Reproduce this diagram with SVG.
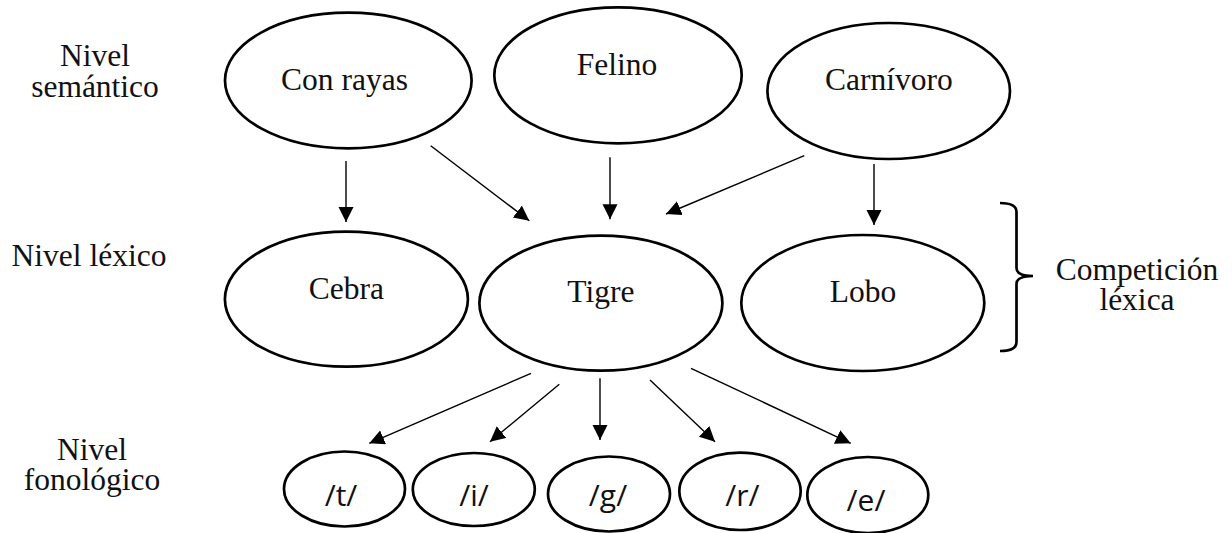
<svg xmlns="http://www.w3.org/2000/svg" width="1232" height="533" viewBox="0 0 1232 533">
  <style>
    .node { fill: #ffffff; stroke: #000000; stroke-width: 2.7; }
    .serif { font-family: "Liberation Serif", "Times New Roman", serif; font-size: 31.5px; fill: #111111; text-anchor: middle; }
    .sans { font-family: "Open Sans", "Liberation Sans", sans-serif; font-size: 30px; fill: #111111; text-anchor: middle; }
    .edge { stroke: #000000; stroke-width: 1.4; fill: none; marker-end: url(#arrow); }
    .brace { stroke: #000000; stroke-width: 2.7; fill: none; }
  </style>
  <defs>
    <marker id="arrow" markerUnits="userSpaceOnUse" markerWidth="16" markerHeight="16" refX="15" refY="7.5" orient="auto">
      <path d="M0,0 L15,7.5 L0,15 Z" fill="#000000"/>
    </marker>
  </defs>

  <rect width="1232" height="533" fill="#ffffff"/>

  <!-- level labels -->
  <g id="labels">
    <text class="serif" x="95" y="66">Nivel</text>
    <text class="serif" x="95" y="97">semántico</text>
    <text class="serif" x="89" y="266">Nivel léxico</text>
    <text class="serif" x="92" y="460">Nivel</text>
    <text class="serif" x="92" y="490">fonológico</text>
  </g>

  <!-- connectors -->
  <g id="connectors">
    <line class="edge" x1="346" y1="161" x2="346" y2="222"/>
    <line class="edge" x1="430.7" y1="145.7" x2="529.3" y2="220.7"/>
    <line class="edge" x1="610" y1="157.3" x2="610" y2="219.3"/>
    <line class="edge" x1="804.3" y1="155.7" x2="666" y2="214"/>
    <line class="edge" x1="874" y1="164" x2="874" y2="225"/>
    <line class="edge" x1="531" y1="373.3" x2="369.3" y2="443.3"/>
    <line class="edge" x1="559.3" y1="384.3" x2="490" y2="441.7"/>
    <line class="edge" x1="600" y1="378.3" x2="600" y2="440"/>
    <line class="edge" x1="650" y1="380" x2="715" y2="441.7"/>
    <line class="edge" x1="691" y1="368.3" x2="850.7" y2="443.3"/>
  </g>

  <!-- semantic level -->
  <g id="con-rayas">
    <ellipse class="node" cx="348.3" cy="80.5" rx="123.3" ry="67.8"/>
    <text class="serif" x="344.5" y="90">Con rayas</text>
  </g>
  <g id="felino">
    <ellipse class="node" cx="618" cy="75.3" rx="123.7" ry="68"/>
    <text class="serif" x="617" y="75">Felino</text>
  </g>
  <g id="carnivoro">
    <ellipse class="node" cx="888.7" cy="91" rx="121.3" ry="68"/>
    <text class="serif" x="888.8" y="89.5">Carnívoro</text>
  </g>

  <!-- lexical level -->
  <g id="cebra">
    <ellipse class="node" cx="346.4" cy="299.2" rx="121.5" ry="67.5"/>
    <text class="serif" x="346.4" y="298.5">Cebra</text>
  </g>
  <g id="tigre">
    <ellipse class="node" cx="600.9" cy="303.2" rx="121.5" ry="67.5"/>
    <text class="serif" x="600.9" y="301.5">Tigre</text>
  </g>
  <g id="lobo">
    <ellipse class="node" cx="862.8" cy="303" rx="121.5" ry="68"/>
    <text class="serif" x="863" y="301.5">Lobo</text>
  </g>

  <!-- lexical competition brace -->
  <g id="competicion">
    <path class="brace" d="M1000,203 Q1016.5,203 1016.5,212 L1016.5,268 Q1016.5,276 1033,276 Q1016.5,276 1016.5,284 L1016.5,342 Q1016.5,351 1000,351"/>
    <text class="serif" x="1137" y="280">Competición</text>
    <text class="serif" x="1137" y="310">léxica</text>
  </g>

  <!-- phonological level -->
  <g id="ph-t">
    <ellipse class="node" cx="344.5" cy="489" rx="60.5" ry="37.5"/>
    <text class="sans" x="341" y="506">/t/</text>
  </g>
  <g id="ph-i">
    <ellipse class="node" cx="473.8" cy="489.5" rx="61" ry="36.5"/>
    <text class="sans" x="474" y="506">/i/</text>
  </g>
  <g id="ph-g">
    <ellipse class="node" cx="609" cy="494" rx="61" ry="37.5"/>
    <text class="sans" x="608" y="506">/g/</text>
  </g>
  <g id="ph-r">
    <ellipse class="node" cx="740" cy="491.3" rx="60.7" ry="38.7"/>
    <text class="sans" x="742.5" y="506">/r/</text>
  </g>
  <g id="ph-e">
    <ellipse class="node" cx="867.8" cy="495" rx="60.5" ry="38"/>
    <text class="sans" x="866" y="511">/e/</text>
  </g>
</svg>
